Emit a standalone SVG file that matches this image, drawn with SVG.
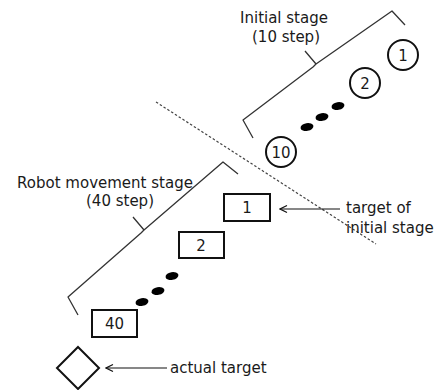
<svg xmlns="http://www.w3.org/2000/svg" width="436" height="390" viewBox="0 0 436 390">
  <defs>
    <marker id="arrow" markerWidth="10" markerHeight="10" refX="9" refY="5" orient="auto" markerUnits="userSpaceOnUse">
      <path d="M2,1.5 L9,5 L2,8.5" fill="none" stroke="#111" stroke-width="1.2"/>
    </marker>
    <style>
      .lbl { font-family: "DejaVu Sans", "Liberation Sans", sans-serif; font-size: 15px; fill: #1a1a1a; }
      .num { font-family: "DejaVu Sans", "Liberation Sans", sans-serif; font-size: 15px; fill: #1a1a1a; text-anchor: middle; }
      .step { fill: #fff; stroke: #111; stroke-width: 2; }
      .dot { fill: #000; }
      .brace { fill: none; stroke: #333; stroke-width: 1.3; stroke-linejoin: round; }
      .conn { fill: none; stroke: #111; stroke-width: 1.2; }
    </style>
  </defs>
  <rect width="436" height="390" fill="#fff"/>

  <!-- stage divider -->
  <line x1="156" y1="102" x2="376" y2="244" stroke="#444" stroke-width="1.2" stroke-dasharray="2.5,2"/>

  <!-- braces and labels -->
  <g id="initial-stage">
    <path class="brace" d="M405,25 L392,11 L316,64 L305,51 M316,64 L313,67 L243,120 L253,138"/>
    <text class="lbl" x="284" y="23" text-anchor="middle">Initial stage</text>
    <text class="lbl" x="286" y="42" text-anchor="middle">(10 step)</text>
  </g>
  <g id="robot-stage">
    <path class="brace" d="M238,174 L223,162 L144,230 L133,217 M144,230 L141,233 L68,297 L78,315"/>
    <text class="lbl" x="105" y="188" text-anchor="middle">Robot movement stage</text>
    <text class="lbl" x="120" y="206" text-anchor="middle">(40 step)</text>
  </g>

  <!-- initial stage steps -->
  <g id="step-1">
    <circle class="step" cx="403" cy="55" r="15"/>
    <text class="num" x="403" y="60.5">1</text>
  </g>
  <g id="step-2">
    <circle class="step" cx="365" cy="83" r="15"/>
    <text class="num" x="365" y="88.5">2</text>
  </g>
  <g id="step-dots-initial">
    <ellipse class="dot" cx="338" cy="106" rx="6.5" ry="3.9" transform="rotate(-10 338 106)"/>
    <ellipse class="dot" cx="322" cy="117" rx="6.5" ry="3.9" transform="rotate(-10 322 117)"/>
    <ellipse class="dot" cx="307" cy="127" rx="6.5" ry="3.9" transform="rotate(-10 307 127)"/>
  </g>
  <g id="step-10">
    <circle class="step" cx="281" cy="152" r="15"/>
    <text class="num" x="281" y="157.5">10</text>
  </g>

  <!-- robot movement steps -->
  <g id="move-1">
    <rect class="step" x="224" y="194" width="46" height="27"/>
    <text class="num" x="247" y="213">1</text>
  </g>
  <g id="move-2">
    <rect class="step" x="179" y="232" width="45" height="26"/>
    <text class="num" x="201" y="250.5">2</text>
  </g>
  <g id="step-dots-move">
    <ellipse class="dot" cx="172" cy="276" rx="6.5" ry="3.9" transform="rotate(-10 172 276)"/>
    <ellipse class="dot" cx="158" cy="291" rx="6.5" ry="3.9" transform="rotate(-10 158 291)"/>
    <ellipse class="dot" cx="142" cy="302" rx="6.5" ry="3.9" transform="rotate(-10 142 302)"/>
  </g>
  <g id="move-40">
    <rect class="step" x="92" y="310" width="45" height="27"/>
    <text class="num" x="114.5" y="329">40</text>
  </g>

  <!-- actual target -->
  <g id="actual-target">
    <path class="step" d="M78,347 L99,368 L78,389 L57,368 Z"/>
  </g>

  <!-- annotations -->
  <g id="connectors">
    <line class="conn" x1="340" y1="209" x2="280" y2="209" marker-end="url(#arrow)"/>
    <line class="conn" x1="167" y1="368" x2="106" y2="368" marker-end="url(#arrow)"/>
  </g>
  <g id="labels">
    <text class="lbl" x="346" y="213">target of</text>
    <text class="lbl" x="346" y="233">initial stage</text>
    <text class="lbl" x="170" y="373">actual target</text>
  </g>
</svg>
